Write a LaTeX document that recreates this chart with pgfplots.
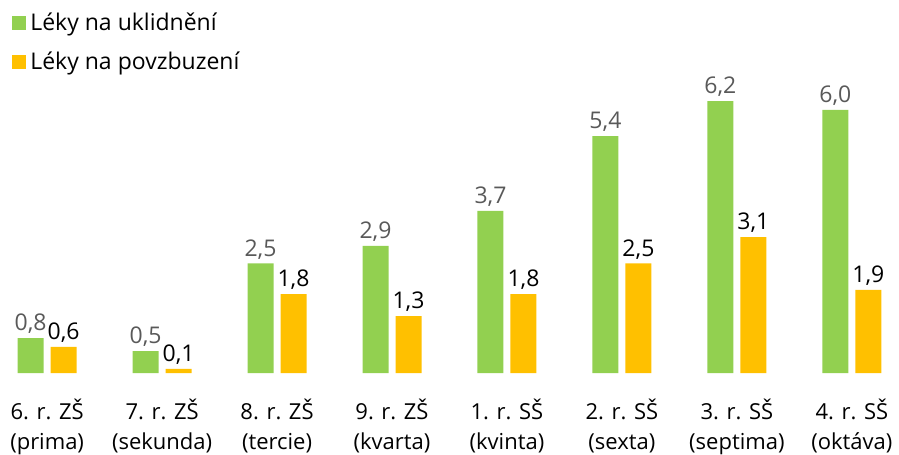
\documentclass[border=0pt]{standalone}
\usepackage{pgfplots}
\pgfplotsset{compat=1.18}
\usepackage{fontspec}
\setmainfont{Open Sans}
\definecolor{cgreen}{HTML}{92D050}
\definecolor{cyellow}{HTML}{FFC000}
\definecolor{cgray}{HTML}{595959}

\begin{document}
\fontsize{11}{15}\selectfont
\begin{tikzpicture}
\begin{axis}[
  scale only axis, width=449.5pt, height=186.5pt,
  ymin=0, ymax=8.5, xmin=-0.41, xmax=7.41,
  axis line style={draw=none},
  ytick=\empty,
  xtick={0,...,7},
  major tick length=0pt,
  xticklabels={{6. r. ZŠ\\(prima)},{7. r. ZŠ\\(sekunda)},{8. r. ZŠ\\(tercie)},
    {9. r. ZŠ\\(kvarta)},{1. r. SŠ\\(kvinta)},{2. r. SŠ\\(sexta)},
    {3. r. SŠ\\(septima)},{4. r. SŠ\\(oktáva)}},
  xticklabel style={align=center, font=\fontsize{11}{15}\selectfont, anchor=north, inner sep=0pt, yshift=-12.5pt},
  ybar=3.5pt, bar width=13pt,
  nodes near coords={\pgfmathprintnumber[assume math mode=true,use comma,fixed,fixed zerofill,precision=1]{\pgfplotspointmeta}},
  every node near coord/.append style={font=\fontsize{11.5}{15}\selectfont, anchor=south, inner sep=2pt},
  legend style={at={(0,1)}, anchor=north west, draw=none, fill=none,
    font=\fontsize{11.5}{15}\selectfont, row sep=5pt, inner xsep=6pt, inner ysep=4pt},
  legend cell align=left,
  legend image code/.code={\fill[#1] (0pt,-3.5pt) rectangle (7pt,3.5pt);},
  clip=false,
]
\addplot[fill=cgreen, draw=none, every node near coord/.append style={text=cgray}]
  coordinates {(0,0.8) (1,0.5) (2,2.5) (3,2.9) (4,3.7) (5,5.4) (6,6.2) (7,6.0)};
\addplot[fill=cyellow, draw=none, every node near coord/.append style={text=black}]
  coordinates {(0,0.6) (1,0.1) (2,1.8) (3,1.3) (4,1.8) (5,2.5) (6,3.1) (7,1.9)};
\legend{Léky na uklidnění, Léky na povzbuzení}
\end{axis}
\useasboundingbox (0,-40.5pt) rectangle (449.5pt,186.5pt);
\end{tikzpicture}
\end{document}
